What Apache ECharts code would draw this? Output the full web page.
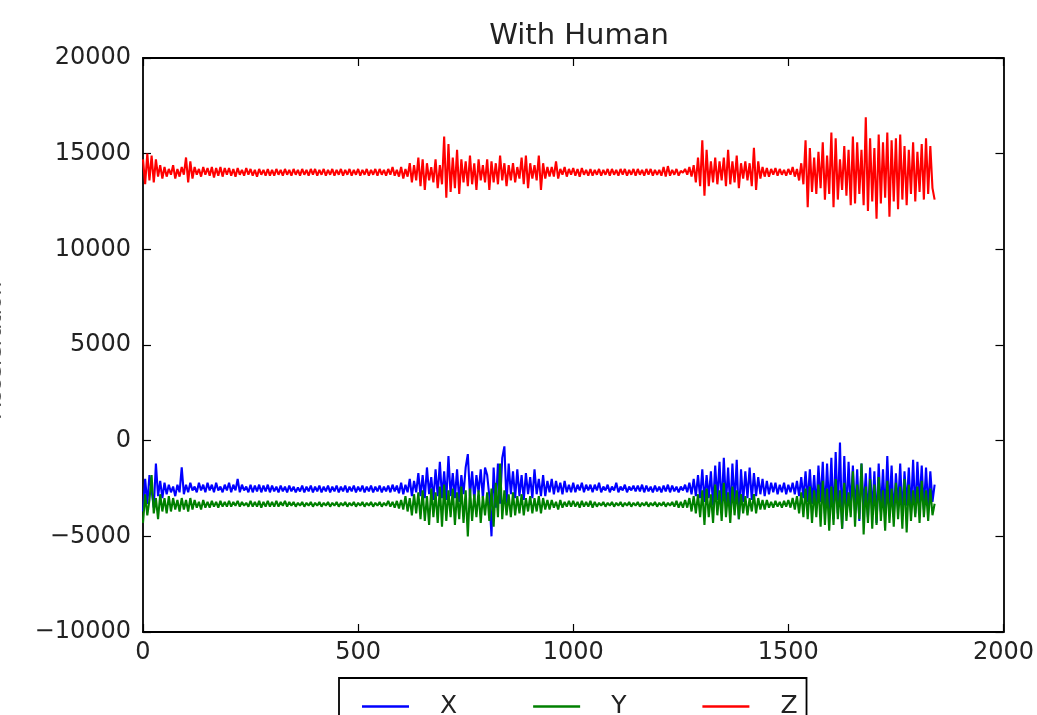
<!DOCTYPE html>
<html>
<head>
<meta charset="utf-8">
<script src="https://cdn.jsdelivr.net/npm/echarts@6/dist/echarts.min.js"></script>
<style>
html,body{margin:0;padding:0;background:#fff;}
#chart{width:1037px;height:715px;}
</style>
</head>
<body>
<div id="chart"></div>
<script>
// sample spacing along the x axis (sample index units)
const sampleStep = 5;
const xTicks = [0, 500, 1000, 1500, 2000];
const yTicks = [-10000, -5000, 0, 5000, 10000, 15000, 20000];
const legendNames = ['X', 'Y', 'Z'];

// X (blue), one row = 50 samples
const valuesX = [
-3700,-2000,-3300,-1800,-2600,-3500,-1200,-2900,-2100,-3000,
-2200,-2800,-2300,-2700,-2400,-2900,-2300,-2700,-1400,-2800,
-2300,-2700,-2200,-2600,-2400,-2700,-2200,-2600,-2300,-2700,
-2200,-2600,-2300,-2700,-2200,-2600,-2400,-2700,-2300,-2600,
-2200,-2700,-2300,-2600,-2000,-2700,-2300,-2600,-2400,-2700,
-2300,-2700,-2350,-2650,-2300,-2700,-2350,-2650,-2300,-2700,
-2350,-2650,-2400,-2700,-2350,-2650,-2400,-2700,-2350,-2650,
-2400,-2700,-2450,-2650,-2350,-2700,-2400,-2650,-2350,-2700,
-2400,-2650,-2350,-2700,-2400,-2650,-2350,-2700,-2400,-2650,
-2350,-2700,-2400,-2650,-2350,-2700,-2400,-2650,-2350,-2700,
-2400,-2650,-2350,-2700,-2400,-2650,-2350,-2700,-2400,-2650,
-2350,-2700,-2400,-2650,-2350,-2700,-2300,-2650,-2350,-2750,
-2200,-2800,-2300,-2700,-2000,-2900,-2100,-2700,-1700,-2900,
-1800,-3000,-1400,-2800,-1900,-3100,-1500,-2900,-1100,-3000,
-1600,-3100,-800,-2900,-1700,-3000,-1500,-3200,-1800,-2800,
-1400,-700,-2900,-1600,-3100,-1800,-2700,-1500,-3000,-1400,
-1800,-2900,-5000,-1400,-3500,-1200,-3300,-900,-300,-3300,
-1200,-2800,-1600,-3000,-1500,-2900,-1800,-3100,-1700,-2800,
-1900,-3000,-1500,-2800,-2000,-2900,-1800,-2900,-2100,-2700,
-2000,-2800,-2100,-2700,-2200,-2800,-2100,-2700,-2300,-2700,
-2200,-2700,-2300,-2600,-2200,-2700,-2300,-2600,-2300,-2700,
-2300,-2600,-2200,-2700,-2400,-2600,-2300,-2700,-2400,-2600,
-2200,-2700,-2400,-2600,-2300,-2700,-2400,-2600,-2350,-2650,
-2350,-2650,-2300,-2700,-2350,-2650,-2400,-2700,-2350,-2650,
-2400,-2700,-2350,-2650,-2300,-2700,-2350,-2650,-2400,-2700,
-2400,-2600,-2300,-2700,-2200,-2800,-2000,-2900,-1800,-3000,
-1500,-3200,-1800,-3000,-1600,-3400,-1300,-3100,-1100,-3500,
-900,-3300,-1400,-3600,-1200,-3300,-1000,-4100,-1500,-3200,
-1600,-3000,-1400,-3100,-1700,-2900,-1900,-2800,-2000,-2900,
-2100,-2800,-2200,-2700,-2200,-2800,-2300,-2700,-2200,-2800,
-2300,-2700,-2200,-2800,-2100,-2900,-1900,-3000,-1600,-3200,
-1500,-3300,-1800,-3500,-1300,-3200,-1100,-3800,-1200,-3600,
-900,-4100,-600,-3800,-100,-4600,-800,-3900,-1100,-3500,
-1300,-3700,-1500,-4200,-1200,-3600,-1700,-4000,-1400,-3800,
-1600,-4300,-1200,-3700,-1500,-3900,-800,-3600,-1300,-4000,
-1700,-3500,-1200,-3900,-1600,-3400,-1400,-3700,-1000,-3800,
-1100,-3300,-1300,-3600,-1400,-3500,-1600,-3200,-2300
];

// Y (green)
const valuesY = [
-4300,-2800,-3900,-3100,-1800,-3800,-3000,-4100,-2800,-3700,
-3000,-3800,-2900,-3700,-3000,-3600,-3100,-3700,-3000,-3600,
-3100,-3700,-3000,-3600,-3100,-3500,-3200,-3600,-3100,-3500,
-3200,-3500,-3150,-3450,-3200,-3500,-3150,-3450,-3200,-3450,
-3150,-3450,-3200,-3400,-3150,-3450,-3200,-3400,-3250,-3450,
-3150,-3450,-3200,-3450,-3150,-3500,-3200,-3450,-3150,-3450,
-3200,-3450,-3150,-3450,-3200,-3400,-3150,-3450,-3200,-3400,
-3200,-3450,-3250,-3400,-3200,-3450,-3250,-3400,-3200,-3450,
-3250,-3400,-3200,-3450,-3250,-3400,-3200,-3450,-3250,-3400,
-3200,-3450,-3250,-3400,-3200,-3450,-3250,-3400,-3200,-3450,
-3250,-3400,-3200,-3450,-3250,-3400,-3200,-3450,-3250,-3400,
-3200,-3450,-3250,-3400,-3150,-3450,-3200,-3500,-3150,-3550,
-3100,-3600,-2900,-3700,-3000,-3900,-2800,-3800,-2700,-4100,
-2600,-4200,-2900,-4400,-2500,-4000,-2700,-4300,-2400,-4500,
-2300,-4200,-2600,-4000,-2500,-4400,-2700,-4100,-2400,-4300,
-2600,-5000,-2500,-4200,-2800,-4000,-2600,-4300,-2900,-3900,
-2700,-4200,-2500,-4500,-2200,-4000,-1200,-4100,-2600,-3900,
-2800,-4000,-2700,-3900,-2900,-3800,-2800,-3900,-3000,-3700,
-2900,-3800,-3000,-3700,-2900,-3800,-3000,-3600,-3100,-3600,
-3100,-3500,-3200,-3600,-3100,-3500,-3200,-3450,-3150,-3450,
-3150,-3450,-3200,-3500,-3150,-3450,-3200,-3450,-3150,-3500,
-3200,-3450,-3250,-3400,-3200,-3450,-3250,-3400,-3200,-3450,
-3250,-3400,-3200,-3450,-3250,-3400,-3200,-3450,-3250,-3400,
-3200,-3450,-3250,-3400,-3200,-3450,-3250,-3400,-3200,-3450,
-3250,-3400,-3200,-3450,-3250,-3400,-3200,-3450,-3150,-3500,
-3200,-3500,-3100,-3500,-3000,-3700,-2900,-3800,-2800,-4000,
-2600,-4400,-2500,-4000,-2800,-4300,-2300,-3900,-2600,-4200,
-2200,-4000,-2700,-4300,-2400,-3900,-2600,-4100,-2800,-3800,
-2900,-3900,-3000,-3700,-2800,-3800,-3000,-3600,-3100,-3600,
-3100,-3500,-3200,-3500,-3150,-3450,-3200,-3500,-3150,-3450,
-3100,-3500,-3000,-3600,-2900,-3800,-2700,-4000,-2500,-4100,
-2400,-4300,-2600,-4000,-2300,-4500,-2100,-4400,-2500,-4700,
-2400,-4400,-2000,-4100,-2600,-4600,-2200,-4200,-2700,-4000,
-1600,-4500,-2300,-4100,-1200,-4900,-2400,-4300,-2000,-4600,
-2300,-4400,-1900,-4200,-2600,-4700,-2100,-4300,-2500,-4500,
-2200,-4100,-2400,-4600,-2000,-4800,-2300,-4200,-2600,-4000,
-2400,-4300,-2100,-4000,-2600,-4200,-2500,-3900,-3300
];

// Z (red)
const valuesZ = [
14700,13400,15000,13600,14900,13500,14700,13800,14400,13700,
14300,13800,14200,13900,14400,13700,14200,13800,14300,13900,
14800,13500,14600,13700,14300,13900,14200,13800,14300,13900,
14250,13850,14300,13750,14250,13850,14300,13800,14250,13900,
14250,13850,14200,13800,14250,13900,14150,13850,14250,13900,
14200,13850,14150,13800,14200,13900,14150,13850,14200,13850,
14150,13850,14200,13900,14150,13850,14200,13900,14150,13850,
14200,13900,14150,13850,14200,13900,14150,13850,14200,13900,
14200,13850,14150,13900,14200,13850,14150,13900,14200,13850,
14150,13900,14200,13850,14150,13900,14200,13850,14150,13900,
14200,13850,14150,13900,14200,13850,14150,13900,14200,13850,
14200,13900,14150,13850,14200,13900,14300,13850,14150,13800,
14300,13700,14200,13800,14500,13500,14400,13600,14800,13300,
14700,13100,14500,13600,14300,13500,14700,13200,14400,13400,
15900,12700,15500,13000,14800,13200,15200,12900,14700,13500,
14600,13300,14900,13400,14500,13100,14700,13600,14400,13500,
14700,13100,14600,13500,14500,13400,14900,13600,14500,13300,
14400,13600,14500,13500,14300,13700,14800,13400,14900,13200,
14500,13700,14400,13600,14900,13100,14500,13700,14300,13800,
14300,13800,14600,13700,14200,13900,14300,13800,14200,13900,
14250,13850,14200,13800,14250,13900,14150,13850,14200,13850,
14150,13900,14200,13850,14150,13900,14200,13850,14200,13900,
14150,13850,14200,13900,14200,13850,14150,13900,14200,13850,
14200,13900,14150,13850,14200,13900,14200,13850,14150,13900,
14150,13850,14300,13800,14350,13850,14150,13900,14200,13850,
14100,14000,14200,13900,14300,13800,14400,13500,14800,13300,
15700,12800,15200,13300,14600,13500,14800,13400,14600,13600,
14800,13300,15200,13400,14600,13500,14900,13200,14500,13700,
14600,13600,14500,13300,15300,13100,14600,13700,14300,13800,
14250,13800,14200,13900,14250,13850,14200,13900,14150,13850,
14200,13900,14300,13800,14200,13600,14500,13400,15700,12200,
15300,13000,14800,12900,15100,13200,15600,12600,14900,12900,
16100,12200,15800,12600,14700,13100,15400,12800,15200,12300,
15900,12400,15600,12900,15200,12300,16900,12000,15800,12500,
15300,11600,16000,12400,15600,12700,16100,11700,15700,12500,
15800,12100,16000,12600,15400,12300,15200,12900,15600,12500,
15100,13000,15500,12600,15800,12900,15400,13200,12600
];

function toPairs(vals) {
  return vals.map((v, i) => [i * sampleStep, v]);
}

const FONT = 'DejaVu Sans';
const TXT = '#222';
const axisLine = { show: true, onZero: false, lineStyle: { color: '#000', width: 1.8 } };
const tick = { show: true, inside: true, length: 8, lineStyle: { color: '#000', width: 1.2 } };
const LW = 2.1;

const chart = echarts.init(document.getElementById('chart'), null, { renderer: 'canvas' });
chart.setOption({
  animation: false,
  backgroundColor: '#fff',
  title: {
    text: 'With Human',
    left: 574,
    top: 17,
    textAlign: 'center',
    textStyle: { fontFamily: FONT, fontSize: 29, fontWeight: 'normal', color: TXT }
  },
  grid: { left: 143, right: 31, top: 58, bottom: 83, containLabel: false },
  xAxis: [
    {
      type: 'value', min: xTicks[0], max: xTicks[xTicks.length - 1], interval: 500,
      position: 'bottom',
      axisLine: axisLine, axisTick: tick, splitLine: { show: false },
      axisLabel: { fontFamily: FONT, fontSize: 24, color: TXT, margin: 9,
        formatter: v => String(v) }
    },
    {
      type: 'value', min: xTicks[0], max: xTicks[xTicks.length - 1], interval: 500,
      position: 'top',
      axisLine: axisLine, axisTick: tick, splitLine: { show: false },
      axisLabel: { show: false }
    }
  ],
  yAxis: [
    {
      type: 'value', min: yTicks[0], max: yTicks[yTicks.length - 1], interval: 5000,
      position: 'left',
      axisLine: axisLine, axisTick: tick, splitLine: { show: false },
      axisLabel: {
        fontFamily: FONT, fontSize: 24, color: TXT, margin: 12,
        formatter: v => String(v).replace('-', '\u2212')
      }
    },
    {
      type: 'value', min: yTicks[0], max: yTicks[yTicks.length - 1], interval: 5000,
      position: 'right',
      axisLine: axisLine, axisTick: tick, splitLine: { show: false },
      axisLabel: { show: false }
    }
  ],
  legend: {
    data: legendNames.map(n => ({ name: n, icon: 'rect' })),
    left: 339,
    top: 678,
    orient: 'horizontal',
    itemWidth: 47,
    itemHeight: 2.5,
    itemGap: 76,
    padding: [16, 9, 30, 23],
    borderColor: '#000',
    borderWidth: 1.8,
    backgroundColor: '#fff',
    textStyle: { fontFamily: FONT, fontSize: 25, color: TXT, padding: [0, 0, 0, 26] }
  },
  graphic: [
    {
      type: 'text',
      x: 6, y: 350,
      rotation: Math.PI / 2,
      style: {
        text: 'Acceleration',
        font: '22px "DejaVu Sans"',
        fill: '#555',
        align: 'center',
        verticalAlign: 'bottom'
      }
    }
  ],
  series: [
    { name: 'X', type: 'line', data: toPairs(valuesX), showSymbol: false, symbol: 'none',
      lineStyle: { color: '#0000ff', width: LW }, itemStyle: { color: '#0000ff' } },
    { name: 'Y', type: 'line', data: toPairs(valuesY), showSymbol: false, symbol: 'none',
      lineStyle: { color: '#008000', width: LW }, itemStyle: { color: '#008000' } },
    { name: 'Z', type: 'line', data: toPairs(valuesZ), showSymbol: false, symbol: 'none',
      lineStyle: { color: '#ff0000', width: LW }, itemStyle: { color: '#ff0000' } }
  ]
});
</script>
</body>
</html>
